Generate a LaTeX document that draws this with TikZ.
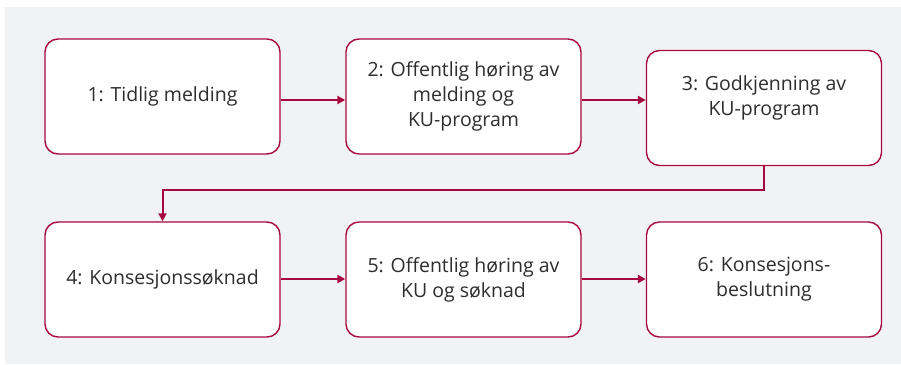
\documentclass[tikz,border=0pt]{standalone}
\usepackage{fontspec}
\setmainfont{Open Sans}
\usepackage{tikz}
\usetikzlibrary{arrows.meta,positioning,calc}
\definecolor{flowred}{HTML}{A6093D}
\definecolor{panelgray}{HTML}{F1F2F4}
\definecolor{textgray}{HTML}{2E2E2E}

\begin{document}
\begin{tikzpicture}[x=1pt,y=1pt,
    stage/.style={draw=flowred,line width=1.4pt,fill=white,rounded corners=13pt,
      minimum width=235pt,minimum height=115pt,align=center,text=textgray,
      font=\fontsize{19.5}{25}\selectfont},
    flow/.style={flowred,line width=2pt,-{Triangle[length=8pt,width=8pt]}}]
  \useasboundingbox (0,0) rectangle (901,364);
  \fill[panelgray] (5,0) rectangle (901,357);
  % top row
  \node[stage] (b1) at (162.5,267.5) {1: Tidlig melding};
  \node[stage] (b2) at (463.5,267.5) {2: Offentlig høring av\\melding og\\KU-program};
  \node[stage] (b3) at (764,256) {3: Godkjenning av\\KU-program\\[0pt]\mbox{}};
  % bottom row
  \node[stage] (b4) at (162.5,84.5) {4: Konsesjonssøknad};
  \node[stage] (b5) at (463.5,84.5) {5: Offentlig høring av\\KU og søknad};
  \node[stage] (b6) at (764,84.5) {6: Konsesjons-\\beslutning};
  \coordinate (turn) at (764,174);
  \draw[flow] ([yshift=-3.5pt]b1.east) -- ([yshift=-3.5pt]b1.east -| b2.west);
  \draw[flow] ([yshift=-3.5pt]b2.east) -- ([yshift=-3.5pt]b2.east -| b3.west);
  \draw[flow] (b3.south) -- (turn) -| (b4.north);
  \draw[flow] ([yshift=0.5pt]b4.east) -- ([yshift=0.5pt]b5.west);
  \draw[flow] ([yshift=0.5pt]b5.east) -- ([yshift=0.5pt]b6.west);
\end{tikzpicture}
\end{document}
